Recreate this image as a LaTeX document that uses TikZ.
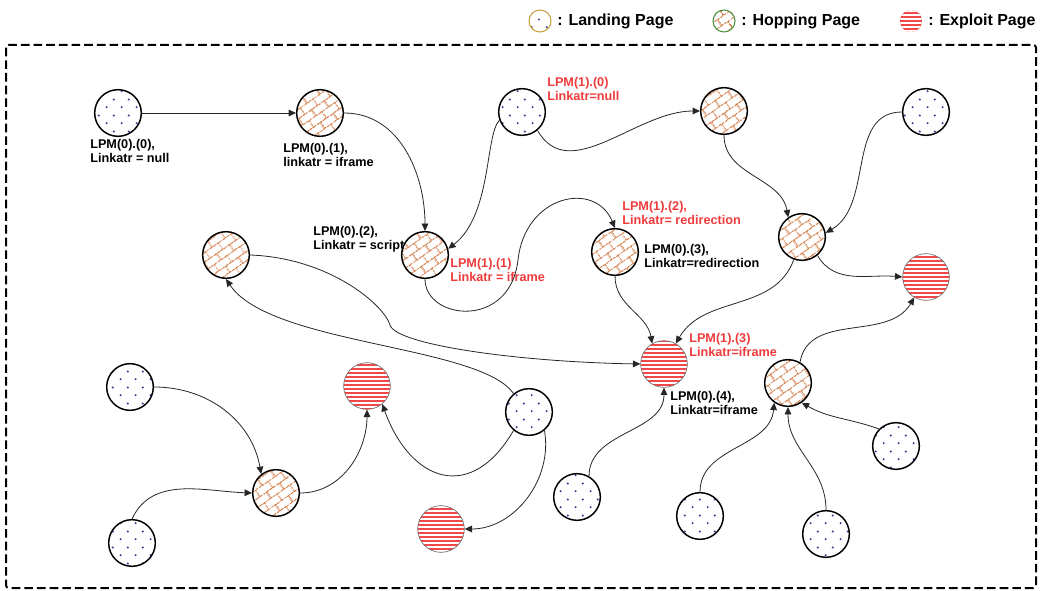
\documentclass[tikz,border=0pt]{standalone}
\usepackage{fontspec}
\setmainfont{Liberation Sans}
\usepackage{tikz}
\usetikzlibrary{
  arrows.meta,
  positioning,
  patterns,
  patterns.meta,
}
\definecolor{dotCol}{HTML}{34449A}
\definecolor{brickCol}{HTML}{D4804C}
\definecolor{exploitCol}{HTML}{F04848}
\definecolor{lpmRed}{HTML}{EE3B3B}
\definecolor{keyGold}{HTML}{C8A040}
\definecolor{keyGreen}{HTML}{4E8F3A}
\newcommand\lpmfont{\fontsize{9.5}{10.5}\selectfont\bfseries}
\newcommand\keyfont{\fontsize{12}{14}\selectfont\bfseries}

% fill patterns of the three page kinds
\tikzdeclarepattern{
  name=landdots,
  type=uncolored,
  bounding box={(0pt,0pt) and (11pt,12pt)},
  tile size={(11pt,12pt)},
  code={
    \fill (2.75pt,3pt) circle (0.9pt);
    \fill (8.25pt,9pt) circle (0.9pt);
  }
}
\tikzdeclarepattern{
  name=hopbricks,
  type=uncolored,
  bounding box={(0pt,0pt) and (12pt,12pt)},
  tile size={(12pt,12pt)},
  tile transformation={rotate=35},
  code={
    \draw[line width=0.85pt] (0pt,1.5pt) -- (12pt,1.5pt) (0pt,7.5pt) -- (12pt,7.5pt)
      (3pt,1.5pt) -- (3pt,7.5pt) (9pt,7.5pt) -- (9pt,12pt) (9pt,0pt) -- (9pt,1.5pt);
  }
}
\tikzset{
  landing/.style={
    circle, draw=black, line width=1.1pt, minimum size=35pt, inner sep=0pt,
    pattern=landdots, pattern color=dotCol,
  },
  hopping/.style={
    circle, draw=black, line width=1.1pt, minimum size=35pt, inner sep=0pt,
    pattern=hopbricks, pattern color=brickCol,
  },
  exploit/.style={
    circle, draw=black!55, line width=0.5pt, minimum size=35pt, inner sep=0pt,
    preaction={fill=exploitCol}, pattern={Lines[distance=3pt,line width=1pt]},
    pattern color=white,
  },
  link/.style={
    -{Triangle[length=5.5pt,width=5pt]}, line width=0.6pt, draw=black!85,
  },
  lpm/.style={font=\lpmfont, align=left, anchor=base west, inner sep=0pt},
  lpmred/.style={lpm, text=lpmRed},
  keytext/.style={font=\keyfont, anchor=base west, inner sep=0pt},
  frame/.style={line width=1.5pt, dash pattern=on 6.5pt off 3pt, rounded corners=2pt},
}

\begin{document}
\begin{tikzpicture}[x=0.75pt, y=-0.75pt]
\useasboundingbox (0,0) rectangle (1042,591);

% Legend
\node[landing, minimum size=16.5pt, draw=keyGold, line width=0.8pt] (keyland) at (540,21) {};
\node[keytext] (keylandtxt) at (557,26) {: Landing Page};
\node[hopping, minimum size=16.5pt, draw=keyGreen, line width=0.8pt] (keyhop) at (724,21) {};
\node[keytext] (keyhoptxt) at (741,26) {: Hopping Page};
\node[exploit, minimum size=16.5pt, draw=none] (keyexp) at (911,21) {};
\node[keytext] (keyexptxt) at (928,26) {: Exploit Page};

% Frame
\draw[frame] (6,45) rectangle (1036,588);

% Landing pages
\node[landing] (l00) at (118,113) {};
\node[landing] (l10) at (522,112) {};
\node[landing] (ltr) at (926,112) {};
\node[landing] (lb1) at (130,387) {};
\node[landing] (lmid) at (529,412) {};
\node[landing] (lbl) at (132,543) {};
\node[landing] (lb2) at (577,497) {};
\node[landing] (lb3) at (700,516) {};
\node[landing] (lb4) at (896,446) {};
\node[landing] (lb5) at (826,534) {};

% Hopping pages
\node[hopping] (h01) at (320,113) {};
\node[hopping] (htr) at (724,111) {};
\node[hopping] (h02) at (425,255) {};
\node[hopping] (h03) at (615,252) {};
\node[hopping] (hr) at (802,237) {};
\node[hopping] (hleft) at (226,255) {};
\node[hopping] (hrb) at (788,383) {};
\node[hopping] (hb) at (276,493) {};

% Exploit pages
\node[exploit] (er) at (926,277) {};
\node[exploit] (ec) at (664,364) {};
\node[exploit] (el) at (367,386) {};
\node[exploit] (eb) at (441,529) {};

% Labels
\node[lpm] (l00lab) at (90,163) {LPM(0).(0),\\Linkatr = null};
\node[lpm] (h01lab) at (283,167) {LPM(0).(1),\\linkatr = iframe};
\node[lpmred] (l10lab) at (547,101) {LPM(1).(0)\\Linkatr=null};
\node[lpm] (h02lab) at (313,250) {LPM(0).(2),\\Linkatr = script};
\node[lpmred] (h02red) at (450,282) {LPM(1).(1)\\Linkatr = iframe};
\node[lpmred] (h03red) at (622,225) {LPM(1).(2),\\Linkatr= redirection};
\node[lpm] (h03lab) at (644,268) {LPM(0).(3),\\Linkatr=redirection};
\node[lpmred] (ecred) at (689,357) {LPM(1).(3)\\Linkatr=iframe};
\node[lpm] (eclab) at (670,415) {LPM(0).(4),\\Linkatr=iframe};

% Links
\draw[link] (l00.east) -- (h01.west);
\draw[link] (h01.east) to[out=0,in=90] (h02.north);
\draw[link] (l10.200) .. controls (485,135) and (492,215) .. (h02.15);
\draw[link] (l10.-50) to[out=-60,in=180] (htr.west);
\draw[link] (h02.south) .. controls (425,320) and (510,330) .. (518,260)
  .. controls (525,195) and (595,180) .. (h03.north);
\draw[link] (htr.south) to[out=-90,in=100] (hr.125);
\draw[link] (ltr.west) to[out=180,in=30] (hr.10);
\draw[link] (hr.-50) to[out=-60,in=175] (er.west);
\draw[link] (hleft.east) .. controls (330,258) and (384,305) .. (390,325)
  .. controls (396,345) and (520,362) .. (ec.west);
\draw[link] (lmid.130) .. controls (480,345) and (270,345) .. (hleft.south);
\draw[link] (h03.south) to[out=-90,in=100] (ec.120);
\draw[link] (hr.-110) to[out=-110,in=60] (ec.60);
\draw[link] (lb2.60) to[out=90,in=-90] (ec.south);
\draw[link] (hrb.60) to[out=80,in=-120] (er.-120);
\draw[link] (lb3.north) to[out=90,in=-95] (hrb.-125);
\draw[link] (lb5.north) to[out=90,in=-90] (hrb.south);
\draw[link] (lb4.135) to[out=160,in=-30] (hrb.-55);
\draw[link] (lb1.east) to[out=0,in=100] (hb.128);
\draw[link] (lbl.north) to[out=65,in=178] (hb.west);
\draw[link] (hb.east) to[out=0,in=-90] (el.south);
\draw[link] (lmid.-130) to[out=-120,in=-70,looseness=1.6] (el.-50);
\draw[link] (lmid.-50) to[out=-80,in=0] (eb.east);

\end{tikzpicture}
\end{document}
